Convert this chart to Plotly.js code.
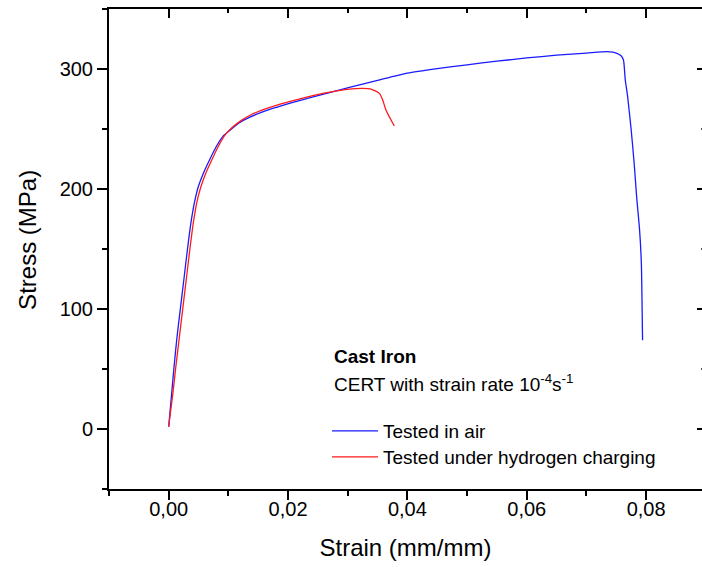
<!DOCTYPE html>
<html>
<head>
<meta charset="utf-8">
<script src="https://cdn.plot.ly/plotly-3.0.1.min.js"></script>
<style>
html,body{margin:0;padding:0;background:#fff;overflow:hidden;}
#chart{width:702px;height:567px;}
</style>
</head>
<body>
<div id="chart"></div>
<script>
// Tested in air
const airStrain = [0, 0.0005, 0.0009, 0.0014, 0.002, 0.0026, 0.0032, 0.0038, 0.0044, 0.005, 0.0058, 0.00682, 0.00794, 0.00905, 0.01017, 0.01185, 0.01352, 0.01631, 0.01911, 0.0219, 0.02581, 0.03028, 0.035, 0.04, 0.045, 0.05, 0.055, 0.06, 0.065, 0.07, 0.0735, 0.0744, 0.075, 0.0758, 0.0762, 0.0765, 0.0769, 0.0775, 0.078, 0.0784, 0.0789, 0.0792, 0.0793, 0.0794];
const airStress = [1.9, 29.7, 51.9, 76.9, 102, 126.9, 151.9, 174.2, 190.8, 202.5, 213, 224, 235, 243.6, 248.6, 255.3, 259.7, 265.3, 269.7, 273.6, 278.9, 284.7, 290.5, 296.5, 300.3, 303.5, 306.5, 309.2, 311.5, 313.3, 314.5, 314, 313.2, 311, 307.5, 291, 277, 249, 221, 194, 166, 138, 110, 74];
// Tested under hydrogen charging
const hydStrain = [0, 0.0007, 0.0012, 0.0018, 0.0024, 0.003, 0.0036, 0.0042, 0.0048, 0.0054, 0.0062, 0.0072, 0.0082, 0.00933, 0.01045, 0.01212, 0.0138, 0.01631, 0.01911, 0.0219, 0.02581, 0.03028, 0.03251, 0.0339, 0.0353, 0.03586, 0.0364, 0.0378];
const hydStress = [1.9, 29.7, 51.9, 76.9, 102, 126.9, 151.9, 174.2, 190.8, 201.9, 213, 224, 234.4, 244.2, 250.4, 257, 261.9, 266.9, 271.4, 275, 279.7, 283.3, 283.9, 283.3, 279.7, 274.2, 265.8, 252.5];

const seriesNames = ["Tested in air", "Tested under hydrogen charging"];
const xTitle = "Strain (mm/mm)";
const yTitle = "Stress (MPa)";
const noteTitle = "<b>Cast Iron</b>";
const noteText = "CERT with strain rate 10<sup>-4</sup>s<sup>-1</sup>";

const FONT = "'Liberation Sans', Arial, sans-serif";
const xRange = [-0.01, 0.08936];
const yRange = [-50, 350];

const traces = [
  {x: airStrain, y: airStress, name: seriesNames[0], type: 'scatter', mode: 'lines',
   line: {color: '#1a1aff', width: 1.3, shape: 'spline', smoothing: 0.6}, legend: 'legend'},
  {x: hydStrain, y: hydStress, name: seriesNames[1], type: 'scatter', mode: 'lines',
   line: {color: '#ff1a1a', width: 1.3, shape: 'spline', smoothing: 0.6}, legend: 'legend2'},
  {x: [], y: [], xaxis: 'x2', yaxis: 'y2', showlegend: false, hoverinfo: 'skip', type: 'scatter', mode: 'lines'}
];

const legendBase = {
  x: 0.3676, xanchor: 'left', yanchor: 'middle',
  font: {family: FONT, size: 19, color: '#000'},
  bgcolor: 'rgba(0,0,0,0)', borderwidth: 0, itemwidth: 46
};

const layout = {
  width: 702, height: 567,
  margin: {l: 109, r: 0, t: 9, b: 78},
  paper_bgcolor: '#fff', plot_bgcolor: '#fff',
  font: {family: FONT, size: 19, color: '#000'},
  showlegend: true,
  legend: Object.assign({}, legendBase, {y: 0.1208}),
  legend2: Object.assign({}, legendBase, {y: 0.0667}),
  xaxis: {
    range: xRange, showgrid: false, zeroline: false,
    showline: true, linecolor: '#000', linewidth: 2,
    ticks: 'outside', ticklen: 9, tickwidth: 2, tickcolor: '#000',
    tick0: 0, dtick: 0.02, tickformat: '.2f', ticklabelstandoff: -8,
    minor: {ticks: 'outside', ticklen: 5, tickwidth: 2, tickcolor: '#000', dtick: 0.01, tick0: 0, showgrid: false},
    tickfont: {family: FONT, size: 20, color: '#000'},
    title: {text: xTitle, font: {family: FONT, size: 24, color: '#000'}, standoff: 20}
  },
  yaxis: {
    range: yRange, showgrid: false, zeroline: false,
    showline: true, linecolor: '#000', linewidth: 2,
    ticks: 'outside', ticklen: 10, tickwidth: 2, tickcolor: '#000',
    tick0: 0, dtick: 100,
    minor: {ticks: 'outside', ticklen: 5, tickwidth: 2, tickcolor: '#000', dtick: 50, tick0: 0, showgrid: false},
    tickfont: {family: FONT, size: 20, color: '#000'},
    title: {text: ''}
  },
  xaxis2: {
    overlaying: 'x', side: 'top', anchor: 'y2', range: xRange,
    showgrid: false, zeroline: false, showticklabels: false,
    showline: true, linecolor: '#000', linewidth: 2,
    ticks: 'inside', ticklen: 9, tickwidth: 2, tickcolor: '#000', tick0: 0, dtick: 0.02,
    minor: {ticks: 'inside', ticklen: 4, tickwidth: 2, tickcolor: '#000', dtick: 0.01, tick0: 0, showgrid: false}
  },
  yaxis2: {
    overlaying: 'y', side: 'right', anchor: 'x2', range: yRange,
    showgrid: false, zeroline: false, showticklabels: false, showline: false,
    ticks: 'inside', ticklen: 5, tickwidth: 2, tickcolor: '#000', tick0: 0, dtick: 100,
    minor: {ticks: 'inside', ticklen: 1.5, tickwidth: 2, tickcolor: '#555', dtick: 50, tick0: 0, showgrid: false}
  },
  annotations: [
    {xref: 'paper', yref: 'paper', x: -0.1366, y: 0.519, xanchor: 'center', yanchor: 'middle',
     textangle: -90, text: yTitle, showarrow: false, font: {family: FONT, size: 24, color: '#000'}},
    {xref: 'paper', yref: 'paper', x: 0.376, y: 0.277, xanchor: 'left', yanchor: 'middle',
     text: noteTitle, showarrow: false, font: {family: FONT, size: 19, color: '#000'}},
    {xref: 'paper', yref: 'paper', x: 0.376, y: 0.221, xanchor: 'left', yanchor: 'middle',
     text: noteText, showarrow: false, font: {family: FONT, size: 19, color: '#000'}}
  ]
};
layout.separators = ',.';

Plotly.newPlot('chart', traces, layout, {displayModeBar: false, staticPlot: true});
</script>
</body>
</html>
